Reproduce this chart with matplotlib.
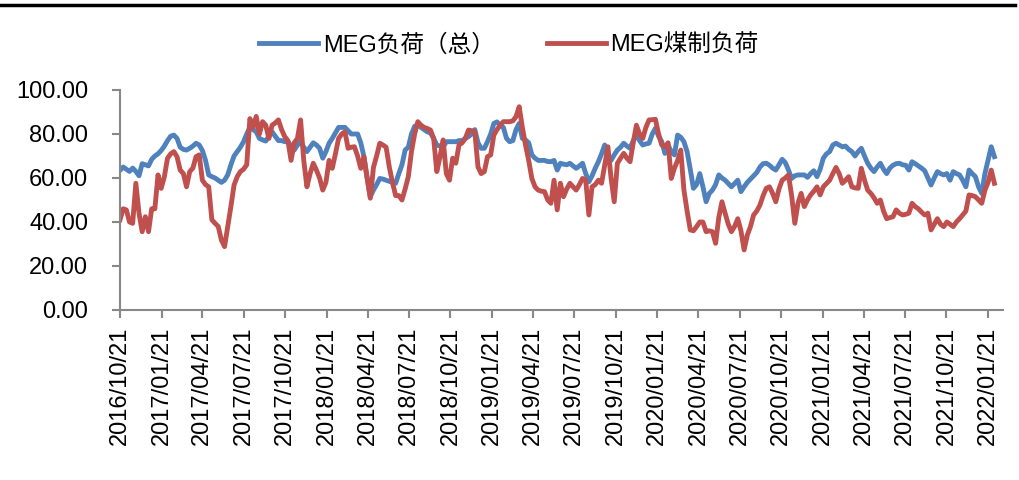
import matplotlib
matplotlib.use("Agg")
import matplotlib.pyplot as plt
import matplotlib.dates as mdates
from matplotlib.lines import Line2D
import pandas as pd

plt.rcParams['font.family'] = ['Liberation Sans', 'Noto Sans CJK SC', 'DejaVu Sans']

# weekly readings, first week 2016/10/21
start_date = "2016-10-21"

meg_total = [
    63.5, 65, 64, 63, 64.5, 63, 61, 66.5, 66, 65.5, 68.5, 70, 71, 72.5, 74.5, 77, 79, 79.5, 78, 74,
    73, 72.7, 73.5, 74.5, 75.8, 75, 72.5, 68, 61.4, 60.6, 60, 59, 58, 59, 61.4, 66, 70, 72, 74, 76.5,
    80, 83, 82, 81, 78, 77.3, 76.8, 79, 81, 79, 77, 77, 76.5, 76.5, 74.5, 72.7, 75, 76.5, 74, 72,
    74, 76, 75, 73.5, 69, 72, 75.8, 78, 80.5, 83, 83, 83, 81.5, 80, 80, 80, 76, 69.7, 60, 51.5,
    54.5, 57, 59.8, 59.5, 59, 58.5, 58, 57.6, 62, 66, 72.7, 74, 80, 83.5, 84, 83, 82, 81, 80.5, 78,
    75, 74.5, 74, 76.5, 76.5, 76.5, 76.5, 77, 77, 78, 78.8, 80, 82, 76, 73.5, 73.5, 76.5, 80, 84.8, 85.5,
    84, 83, 78, 76.5, 77, 82, 84.8, 78, 77.3, 76, 70.5, 69, 68, 68, 68, 67.5, 67.4, 68, 63.6, 66.7,
    66.3, 66, 66.7, 65.5, 64.4, 65.5, 66.7, 62, 58.3, 61, 64.4, 67.4, 71, 75, 70, 68, 70.5, 72.7, 74, 75.8,
    74.5, 73.5, 77, 79.5, 77, 75, 75.5, 75.8, 80, 82.6, 79, 76.5, 71.2, 75, 72, 70.5, 79.5, 78.5, 76.5, 72,
    64, 55.3, 57, 62, 56, 49.2, 53, 54.5, 57, 61.4, 60, 59, 57.5, 56, 57.5, 59, 53.8, 56, 58, 59.5,
    61, 62.5, 65, 66.5, 66.7, 65.8, 64.5, 63.6, 66, 68.5, 67, 63.6, 59.8, 61, 61.4, 61.4, 61.4, 60.3, 62, 63.3,
    60.6, 64, 69, 71, 72, 75, 75.8, 75, 74.2, 74.5, 73, 72, 70, 72, 73.5, 70, 66.7, 64.5, 62.9, 65,
    66.7, 64, 62, 64.5, 65.8, 66.5, 66.7, 66, 65.8, 63.6, 67.4, 66.5, 65.5, 64.5, 63.3, 60, 56.8, 60, 62.9, 62,
    61.4, 62, 59, 62.9, 62, 61.4, 59, 56, 63.6, 62, 60.6, 56, 53, 62, 68, 74.2, 69.7,
]

meg_coal = [
    41, 46, 45.5, 40, 39.4, 57.6, 44, 35.6, 42.4, 35.6, 46, 46, 61.4, 55.3, 60.6, 69, 71, 72, 69.7, 63.6,
    62, 56, 62.9, 64.5, 69.7, 70.5, 59, 57, 56, 41, 39.4, 38, 31.8, 28.8, 37.9, 47, 56.8, 60.6, 62.9, 64,
    66, 87, 83, 88, 80, 85.6, 84, 78, 84, 85, 86.4, 82, 78.8, 77, 68, 76, 78, 86.4, 68, 56,
    62, 66.7, 63.6, 60, 54.5, 58, 68, 64.4, 71, 78, 80, 81, 73.5, 74, 74.2, 70, 64.4, 69.7, 60, 50.8,
    64.8, 70, 75.8, 75, 74, 65, 58, 52, 52, 50, 55, 60.6, 72, 80, 85.6, 84, 83, 82.5, 81.8, 78,
    62.9, 69.7, 77.3, 62, 59, 69, 66.7, 75, 76, 78, 81.8, 81.5, 81, 65, 62, 62.9, 69.7, 70.5, 79.5, 82,
    84, 85.6, 85.6, 85.6, 86, 87.9, 92.4, 83, 75, 68, 59.8, 56, 54.5, 54, 53.8, 50, 48.5, 59, 45.5, 57.6,
    51.5, 55, 57.6, 56, 54.5, 57, 59.8, 59, 43.2, 56, 57, 59, 57.6, 66, 74.2, 60, 49.2, 66.7, 69, 71.2,
    69, 67.4, 76, 84, 80, 78, 83, 86.4, 86.5, 86.7, 80, 75, 74.2, 76, 59.8, 64.4, 68, 72.7, 54.5, 45,
    36.4, 36, 37.9, 40, 40, 35.6, 36, 35.6, 30.3, 42, 49.2, 44, 39, 35.6, 38, 41.5, 36, 27.3, 34, 37.9,
    43.2, 45, 47.7, 52, 55.3, 56, 53, 49.2, 55, 59, 60, 61.4, 52, 39.4, 48.5, 53, 47, 50, 52.3, 54,
    56, 52.3, 56, 57.5, 59, 62, 64.8, 62, 57.6, 59, 60.6, 56, 55.5, 55.3, 64.4, 59, 54.5, 53, 51, 48.5,
    50, 45, 41.5, 42, 42.4, 45.5, 44, 43.2, 43.5, 44, 48.5, 47, 46, 44.5, 43.2, 44, 36.4, 39, 41.5, 39,
    37.9, 40, 39, 37.9, 40, 41.5, 43.2, 45, 52.3, 52, 51.5, 50, 48.5, 54.5, 58, 63.6, 57.6,
]

tick_dates = pd.date_range("2016-10-01", "2022-01-01", freq="3MS") + pd.Timedelta(days=20)

dates = pd.date_range(start_date, periods=len(meg_total), freq="7D")

fig = plt.figure(figsize=(10.19, 4.8), dpi=100)
ax = fig.add_axes([120 / 1019, 1 - 310 / 480, 883 / 1019, 220 / 480])

ax.plot(dates, meg_total, color="#4F81BD", lw=3.5, label="MEG负荷（总）", solid_joinstyle="round")
ax.plot(dates, meg_coal, color="#C0504D", lw=3.5, label="MEG煤制负荷", solid_joinstyle="round")

ax.set_ylim(0, 100)
ax.set_yticks(range(0, 101, 20))
ax.yaxis.set_major_formatter(plt.FormatStrFormatter("%.2f"))
ax.set_xlim(pd.Timestamp("2016-10-21"), pd.Timestamp("2022-02-23"))
ax.set_xticks(tick_dates)
ax.xaxis.set_major_formatter(mdates.DateFormatter("%Y/%m/%d"))

for s in ["top", "right"]:
    ax.spines[s].set_visible(False)
for s in ["left", "bottom"]:
    ax.spines[s].set_color("#888888")
    ax.spines[s].set_linewidth(1.5)

ax.tick_params(axis="y", direction="out", length=6, width=1.5, color="#888888",
               labelsize=17, pad=17)
ax.tick_params(axis="x", direction="out", length=6, width=1.5, color="#888888",
               labelsize=17, pad=6, labelrotation=90)

fig.legend(loc="center", bbox_to_anchor=(509 / 1019, 1 - 45 / 480), ncol=2, frameon=False,
           fontsize=17, handlelength=2.5, handletextpad=0.2, columnspacing=2.2)

# black rule across the top
fig.add_artist(Line2D([0, 1015 / 1019], [1 - 5 / 480, 1 - 5 / 480], color="black", lw=2.5))

fig.savefig("out.png", dpi=100)
